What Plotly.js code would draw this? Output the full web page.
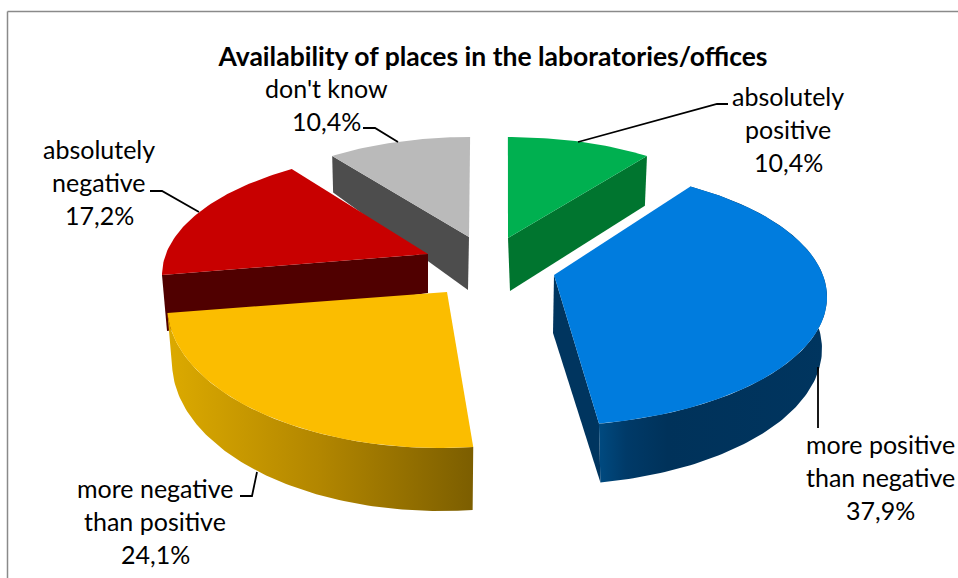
<!DOCTYPE html>
<html>
<head>
<meta charset="utf-8">
<script src="https://cdn.plot.ly/plotly-3.0.1.min.js"></script>
<style>html,body{margin:0;padding:0;background:#fff}#chart{width:958px;height:578px}</style>
</head>
<body>
<div id="chart"></div>
<script>
// ---- data ----
const chartTitle = "Availability of places in the laboratories/offices";
const categories = ["absolutely positive", "more positive than negative", "more negative than positive", "absolutely negative", "don't know"];
const labelLines = [["absolutely", "positive"], ["more positive", "than negative"], ["more negative", "than positive"], ["absolutely", "negative"], ["don't know"]];
const values = [10.4, 37.9, 24.1, 17.2, 10.4];

// ---- style ----
const topColors = ["#00B050", "#007CDE", "#FBBD00", "#C80000", "#BABABA"];
const wallColors = ["#00752F", "#00355F", "#8A6800", "#500000", "#4D4D4D"];
const FONT = "Lato, Carlito, 'Open Sans', sans-serif";

// ---- 3D look: screen ellipse of each slice's top and bottom rim, tip points ----
const topRim = [[508,238,238,101],[545,297,282,129],[440,305,273,143],[432,275,270,124],[470,238,236,101]];
const bottomRim = [[510,291,231,105],[548,349,274,136],[440,362,268,149],[437,331,270,124],[468,290,231,120]];
const tipTop = [[508,238],[554,275],[447,292],[428,254],[469,237]];
const tipBottom = [[510,291],[553,333],[447,292],[428,293],[468,290]];
const angleShift = [-0.87,-5.66,2.64,7.75,0.87];
const angleStretch = [0.955,1.011,1.081,0.948,0.955];
const cutFace = ["end","end",null,"start","start"];
const rimGradient = [null,[[0,"#004A80"],[0.12,"#003A68"],[0.3,"#00325A"],[1,"#00355F"]],[[0,"#DCAA00"],[0.5,"#B28600"],[1,"#7C5E00"]],null,null];
const drawOrder = [4,0,3,1,2];

const total = values.reduce((a,b)=>a+b,0);
const starts = [], ends = [];
values.reduce((acc,v,i)=>{starts[i]=acc/total*360; ends[i]=(acc+v)/total*360; return acc+v;},0);

function rimPoint(e,i,deg){
  const mid=(starts[i]+ends[i])/2;
  const t=(mid+angleShift[i]+(deg-mid)*angleStretch[i])*Math.PI/180;
  return [e[0]+e[2]*Math.sin(t), e[1]-e[3]*Math.cos(t)];
}
function arc(e,i){
  const pts=[],n=Math.max(8,Math.round(ends[i]-starts[i]));
  for(let k=0;k<=n;k++) pts.push(rimPoint(e,i,starts[i]+(ends[i]-starts[i])*k/n));
  return pts;
}
function poly(pts,color,name,grad){
  const closed=pts.concat([pts[0]]);
  const tr={type:"scatter",mode:"lines",x:closed.map(p=>p[0]),y:closed.map(p=>p[1]),fill:"toself",
    fillcolor:color,line:{width:0,color:color},name:name,hoverinfo:"skip",showlegend:false};
  if(grad){
    const xs=pts.map(p=>p[0]);
    tr.fillgradient={type:"horizontal",colorscale:grad,start:Math.min(...xs),stop:Math.max(...xs)};
  }
  return tr;
}
const traces=[];
drawOrder.forEach(i=>{
  const name=categories[i];
  const topArc=arc(topRim[i],i), botArc=arc(bottomRim[i],i);
  if(rimGradient[i]){
    traces.push(poly(topArc.concat(botArc.slice().reverse()),wallColors[i],name,rimGradient[i]));
  }
  if(cutFace[i]==="end"){
    traces.push(poly([tipTop[i],tipBottom[i],botArc[botArc.length-1],topArc[topArc.length-1]],wallColors[i],name));
  } else if(cutFace[i]==="start"){
    traces.push(poly([tipTop[i],tipBottom[i],botArc[0],topArc[0]],wallColors[i],name));
  }
  traces.push(poly([tipTop[i]].concat(topArc),topColors[i],name));
});

// ---- label leader lines ----
const leaders=[
  [[728,104],[717,104],[578,142]],
  [[818,367],[818,428]],
  [[240,496],[252,496],[257,472]],
  [[150,191],[162,191],[199,212]],
  [[363,128],[375,128],[398,142]]
];
leaders.forEach(l=>traces.push({type:"scatter",mode:"lines",x:l.map(p=>p[0]),y:l.map(p=>p[1]),
  line:{color:"#000000",width:1.8},hoverinfo:"skip",showlegend:false}));

// ---- labels ----
const labelX=[788,880,155,99,326];
const labelY=[95.5,443.5,487.5,148.5,87.5];
const lineGap=33;
const annotations=[];
values.forEach((v,i)=>{
  const lines=labelLines[i].concat([v.toFixed(1).replace(".",",")+"%"]);
  lines.forEach((s,k)=>annotations.push({xref:"x",yref:"y",x:labelX[i],y:labelY[i]+k*lineGap,text:s,showarrow:false,
    xanchor:"center",yanchor:"middle",font:{family:FONT,size:25,color:"#000000"}}));
});

const layout={
  width:958,height:578,margin:{l:0,r:0,t:0,b:0},paper_bgcolor:"#ffffff",plot_bgcolor:"#ffffff",
  showlegend:false,hovermode:false,
  title:{text:"<b>"+chartTitle+"</b>",x:493/958,xanchor:"center",y:1-57/578,yanchor:"middle",font:{family:FONT,size:26.5,color:"#000000"}},
  xaxis:{range:[0,958],visible:false,fixedrange:true},
  yaxis:{range:[578,0],visible:false,fixedrange:true},
  annotations:annotations,
  shapes:[
    {type:"line",xref:"x",yref:"y",x0:7.5,y0:11.5,x1:958,y1:11.5,line:{color:"#8A8A8A",width:1.5},layer:"below"},
    {type:"line",xref:"x",yref:"y",x0:7.5,y0:11.5,x1:7.5,y1:578,line:{color:"#8A8A8A",width:1.5},layer:"below"}
  ]
};
Plotly.newPlot("chart",traces,layout,{displayModeBar:false,staticPlot:true});
</script>
</body>
</html>
